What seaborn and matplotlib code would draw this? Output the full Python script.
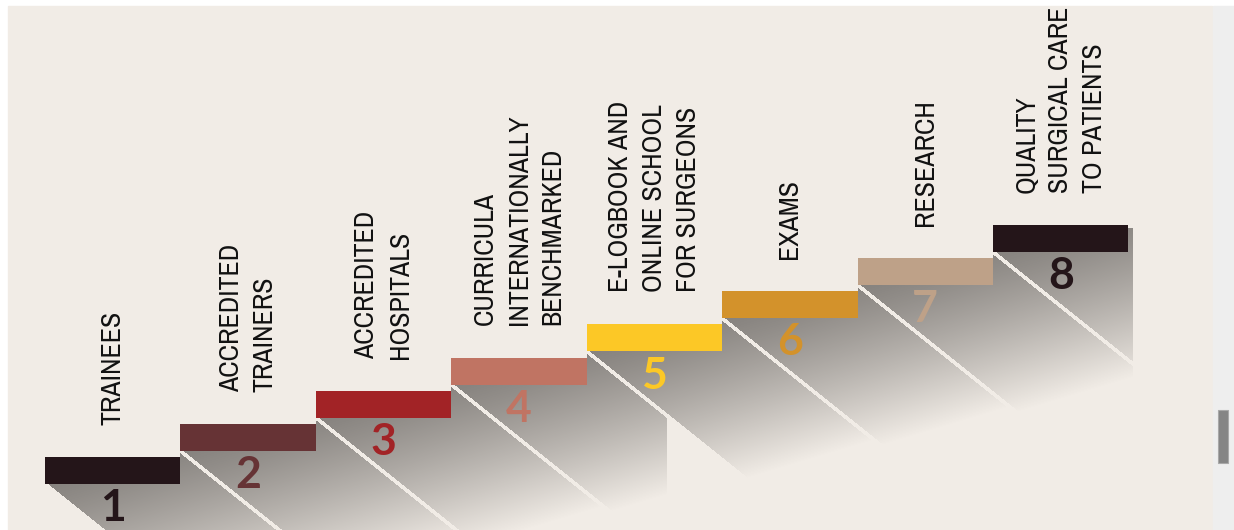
import numpy as np
import pandas as pd
import matplotlib
matplotlib.use('Agg')
import matplotlib.pyplot as plt
from matplotlib import font_manager
from matplotlib.patches import Rectangle
import seaborn as sns

# data: the eight steps of the staircase
steps = [1, 2, 3, 4, 5, 6, 7, 8]
levels = [0, 1, 2, 3, 4, 5, 6, 7]
step_labels = ['TRAINEES',
               'ACCREDITED\nTRAINERS',
               'ACCREDITED\nHOSPITALS',
               'CURRICULA\nINTERNATIONALLY\nBENCHMARKED',
               'E-LOGBOOK AND\nONLINE SCHOOL\nFOR SURGEONS',
               'EXAMS',
               'RESEARCH',
               'QUALITY\nSURGICAL CARE\nTO PATIENTS']
step_colors = ['#241519', '#663335', '#A22326', '#C07463',
               '#FCC826', '#D3922B', '#BEA188', '#241519']

THICK = 0.815          # bar thickness in "level" units
BG = '#F1ECE6'

# pixel layout of the canvas
W, H = 1234, 530
X0, Y0 = 45.0, 484.0   # left / bottom of step 1 in pixels
SW, SH = 135.43, 33.14 # one step in pixels


def to_x(px):
    return 0.5 + (px - X0) / SW


def to_y(py):
    return (Y0 - py) / SH


def pick(prefs):
    names = {f.name for f in font_manager.fontManager.ttflist}
    for n in prefs:
        if n in names:
            return n
    return 'DejaVu Sans'


sns.set_theme(style='white')
label_font = pick(['Liberation Sans Narrow', 'Arial Narrow', 'Archivo Narrow',
                   'PT Sans Narrow', 'Roboto Condensed', 'Liberation Sans'])
num_font = pick(['Lato', 'Noto Sans'])

fig = plt.figure(figsize=(W / 100, H / 100), dpi=100, facecolor='white')
ax = fig.add_axes([0, 0, 1, 1])
ax.set_facecolor('none')

# page background + scrollbar
fig.add_artist(Rectangle((8 / W, 0), (1212 - 8) / W, 1 - 6 / H,
                         transform=fig.transFigure, color=BG, zorder=0))
fig.add_artist(Rectangle((1213 / W, 0), (W - 1213) / W, 1 - 6 / H,
                         transform=fig.transFigure, color='#EEEEEE', zorder=0))
fig.add_artist(Rectangle((1218 / W, 1 - 463 / H), 10 / W, 53 / H,
                         transform=fig.transFigure, facecolor='#858585',
                         edgecolor='#A8A8A8', linewidth=0.8, zorder=0))

# --- cast shadows under the steps (gradient bands) ---
jj, ii = np.meshgrid(np.arange(W) + 0.5, np.arange(H) + 0.5)
D = SH + 0.8 * SW
u = (ii - Y0) - 0.8 * (jj - X0)
k = np.ceil(-u / D).astype(int)
s = u + D * (k - 1)
ok = (k >= 1) & (k <= 8) & (-s > 2.4) & (s + D > 2.4)
xL = X0 + SW * (k - 1)
yB = Y0 - SH * (k - 1)
col = np.floor((jj - X0) / SW).astype(int) + 1
prof = np.where(col < 1, np.inf,
                np.where(col <= 8, Y0 - SH * (col - 1),
                         Y0 - SH * 7 - THICK * SH + 3))
ok &= ii > prof
ok &= ~((k == 4) & (jj > 667))
ok &= jj < 1133
t = (ii - yB) + 0.3 * (jj - xL)
frac = np.clip(t / 175.0, 0, 1)
alpha = (1 - frac ** 1.2) * ok
rgba = np.zeros((H, W, 4))
rgba[..., 0] = 0x86 / 255
rgba[..., 1] = 0x82 / 255
rgba[..., 2] = 0x7E / 255
rgba[..., 3] = alpha
ax.imshow(rgba, extent=(to_x(0), to_x(W), to_y(H), to_y(0)),
          origin='upper', aspect='auto', interpolation='bilinear', zorder=1)

# --- the steps themselves ---
df = pd.DataFrame({'step': steps, 'thickness': [THICK] * len(steps)})
sns.barplot(data=df, x='step', y='thickness', native_scale=True, width=1,
            bottom=levels, color=step_colors[0], saturation=1,
            errorbar=None, linewidth=0, ax=ax, zorder=3)
for p, c in zip(ax.patches, step_colors):
    p.set_facecolor(c)
    p.set_edgecolor('none')

for st, lv, lab, c in zip(steps, levels, step_labels, step_colors):
    ax.text(st, lv - 0.73, str(st), ha='center', va='center',
            fontsize=32, fontweight='bold', family=num_font, color=c, zorder=4)
    ax.text(st, lv + THICK + 0.97, lab, rotation=90, ha='center', va='bottom',
            multialignment='left', fontsize=20, family=label_font,
            color='#111111', linespacing=1.45, zorder=4)

ax.set_xlim(to_x(0), to_x(W))
ax.set_ylim(to_y(H), to_y(0))
ax.axis('off')

fig.savefig('out.png', dpi=100, facecolor='white')
